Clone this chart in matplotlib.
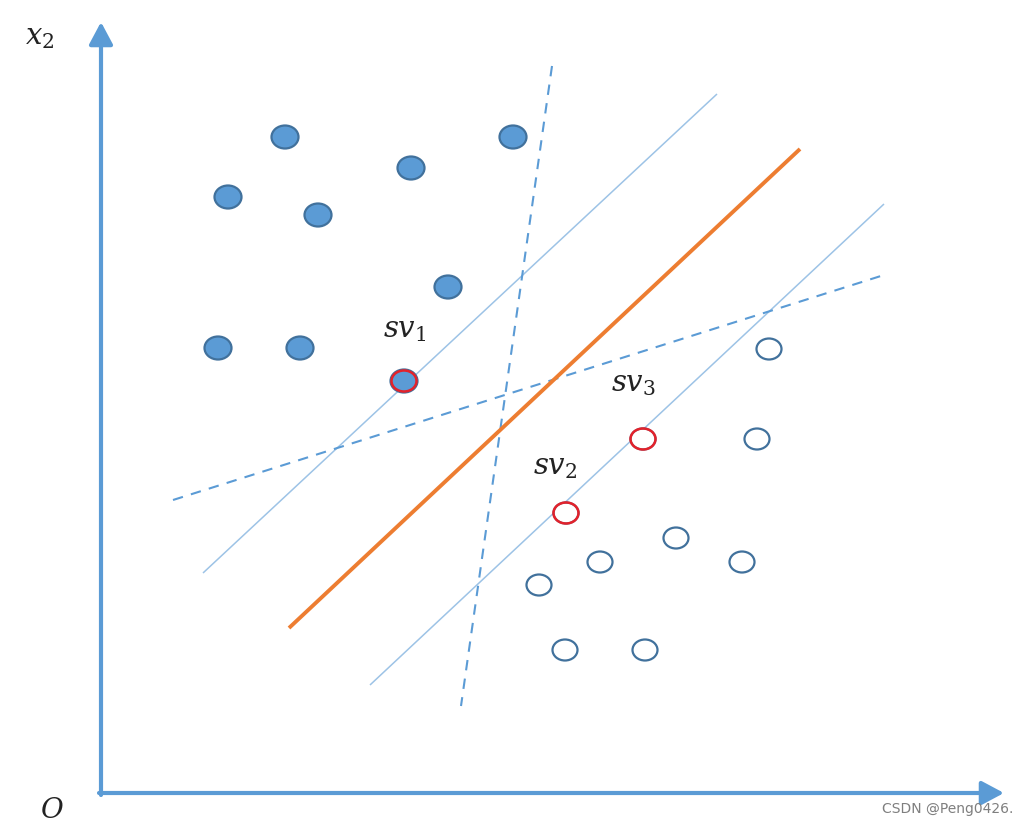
# SVM margin illustration (support vectors sv1, sv2, sv3)

import matplotlib.pyplot as plt
from matplotlib.patches import Ellipse

# Data (image-pixel coordinates, y grows downward)
pos_x = [285, 228, 318, 411, 513, 448, 218, 300, 404]
pos_y = [137, 197, 215, 168, 137, 287, 348, 348, 381]
neg_x = [769, 757, 676, 600, 539, 742, 565, 645, 566, 643]
neg_y = [349, 439, 538, 562, 585, 562, 650, 650, 513, 439]
sv_x = [404, 566, 643]
sv_y = [381, 513, 439]
sv_labels = [r'$sv_1$', r'$sv_2$', r'$sv_3$']
sv_label_x = [405, 555, 633]
sv_label_y = [330, 467, 384]

# line segments: (x0, y0, x1, y1)
hyperplane = (289, 628, 800, 149)
margin_upper = (203, 573, 717, 94)
margin_lower = (370, 685, 884, 204)
other_steep = (552, 66, 461, 706)
other_shallow = (173, 500, 884, 275)

origin = (101, 793)
x_tip = 1004
y_tip = 22

BLUE = '#5B9BD5'
DARK = '#41719C'
RED = '#E3222B'
ORANGE = '#ED7D31'

fig = plt.figure(figsize=(10.27, 8.27), dpi=100)
ax = fig.add_axes([0, 0, 1, 1])
ax.set_xlim(0, 1027)
ax.set_ylim(827, 0)
ax.axis('off')

# axes arrows
arrow = dict(arrowstyle='-|>,head_length=0.75,head_width=0.4', color=BLUE,
             lw=3.0, mutation_scale=18, shrinkA=0, shrinkB=0)
ax.annotate('', xy=(origin[0], y_tip), xytext=(origin[0], origin[1] + 2),
            arrowprops=arrow)
ax.annotate('', xy=(x_tip, origin[1]), xytext=(origin[0] - 2, origin[1]),
            arrowprops=arrow)

# lines
def seg(s, **kw):
    ax.plot([s[0], s[2]], [s[1], s[3]], solid_capstyle='butt', **kw)

seg(margin_upper, color='#9DC3E6', lw=1.1)
seg(margin_lower, color='#9DC3E6', lw=1.1)
seg(other_steep, color=BLUE, lw=1.5, ls=(0, (5, 4)))
seg(other_shallow, color=BLUE, lw=1.5, ls=(0, (5, 4)))
seg(hyperplane, color=ORANGE, lw=2.8)

# points
for x, y in zip(pos_x, pos_y):
    ax.add_patch(Ellipse((x, y), 27, 23, facecolor=BLUE, edgecolor=DARK,
                         lw=1.6, zorder=3))
for x, y in zip(neg_x, neg_y):
    ax.add_patch(Ellipse((x, y), 25, 21, facecolor='white', edgecolor=DARK,
                         lw=1.6, zorder=3))
for x, y in zip(sv_x, sv_y):
    ax.add_patch(Ellipse((x, y), 25, 21, facecolor='none', edgecolor=RED,
                         lw=1.8, zorder=4))

plt.rcParams['mathtext.fontset'] = 'dejavuserif'
for lab, x, y in zip(sv_labels, sv_label_x, sv_label_y):
    ax.text(x, y, lab, fontsize=21, ha='center', va='center', color='#222222')

ax.text(40, 37, r'$x_2$', fontsize=21, ha='center', va='center', color='#222222')
ax.text(52, 810, r'$O$', fontsize=20, ha='center', va='center', color='#222222')
ax.text(1013, 809, 'CSDN @Peng0426.', fontsize=10, ha='right', va='center',
        color='#7f7f7f')

fig.savefig('out.png', dpi=100)
